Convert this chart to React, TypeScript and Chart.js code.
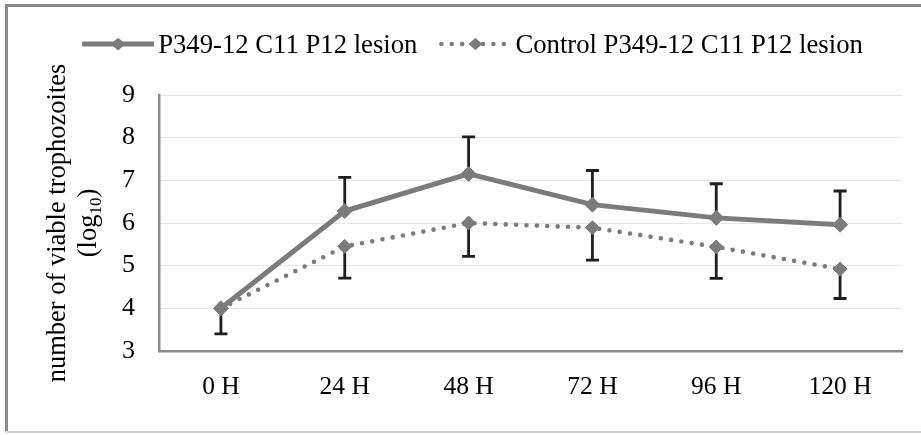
import React, { useEffect, useRef } from 'react';
import { Chart, registerables } from 'chart.js';

Chart.register(...registerables);

const categories = ['0 H', '24 H', '48 H', '72 H', '96 H', '120 H'];
const lesionValues = [4.0, 6.28, 7.15, 6.43, 6.12, 5.96];
const lesionErrorsUp = [0, 0.79, 0.87, 0.8, 0.8, 0.79];
const controlValues = [4.0, 5.45, 6.0, 5.89, 5.44, 4.92];
const controlErrorsDown = [0.6, 0.74, 0.78, 0.76, 0.74, 0.69];
const yMin = 3;
const yMax = 9;
const yStep = 1;
const seriesNames = ['P349-12 C11 P12 lesion', 'Control P349-12 C11 P12 lesion'];
const yTitleLine1 = 'number of viable trophozoites';
const yTitleLine2Parts = ['(log', '10', ')'];

const FONT = '"Liberation Serif", "Times New Roman", serif';
const GRAY = '#7b7b7b';
const DOT_DASH = [0, 10.4];

const framePlugin = {
  id: 'frame',
  beforeDraw(chart: any) {
    const { ctx, width, height } = chart;
    ctx.save();
    ctx.fillStyle = '#ffffff';
    ctx.fillRect(0, 0, width, height);
    ctx.strokeStyle = '#8a8a8a';
    ctx.lineWidth = 3;
    ctx.beginPath();
    ctx.moveTo(6.5, height - 3);
    ctx.lineTo(6.5, 5.5);
    ctx.lineTo(width, 5.5);
    ctx.stroke();
    ctx.strokeStyle = '#d2d2d2';
    ctx.lineWidth = 2;
    ctx.beginPath();
    ctx.moveTo(5, height - 3);
    ctx.lineTo(width, height - 3);
    ctx.stroke();
    ctx.restore();
  },
};

const errorBarPlugin = {
  id: 'errorBars',
  beforeDatasetsDraw(chart: any) {
    const { ctx, scales } = chart;
    const xs = scales.x;
    const ys = scales.y;
    ctx.save();
    ctx.strokeStyle = '#1e1e1e';
    ctx.lineWidth = 2.8;
    const cap = 6.5;
    const drawBar = (i: number, v: number, e: number) => {
      if (!e) return;
      const x = xs.getPixelForValue(i);
      const y0 = ys.getPixelForValue(v);
      const y1 = ys.getPixelForValue(v + e);
      ctx.beginPath();
      ctx.moveTo(x, y0);
      ctx.lineTo(x, y1);
      ctx.moveTo(x - cap, y1);
      ctx.lineTo(x + cap, y1);
      ctx.stroke();
    };
    lesionValues.forEach((v, i) => drawBar(i, v, lesionErrorsUp[i]));
    controlValues.forEach((v, i) => drawBar(i, v, -controlErrorsDown[i]));
    ctx.restore();
  },
};

const legendPlugin = {
  id: 'customLegend',
  afterDraw(chart: any) {
    const { ctx } = chart;
    ctx.save();
    const fontSize = 26.7;
    ctx.font = `${fontSize}px ${FONT}`;
    const sampleW = 72;
    const gapText = 4;
    const gapItem = 22;
    const widths = seriesNames.map((n) => sampleW + gapText + ctx.measureText(n).width);
    const total = widths[0] + widths[1] + gapItem;
    const center = 472.5;
    const yMid = 44;
    const baseline = 53;
    let x = center - total / 2;
    seriesNames.forEach((name, i) => {
      const ds = chart.data.datasets[i];
      ctx.save();
      ctx.strokeStyle = ds.borderColor;
      ctx.lineWidth = ds.borderWidth;
      ctx.lineCap = i === 0 ? 'butt' : 'round';
      ctx.setLineDash(i === 0 ? [] : DOT_DASH);
      ctx.beginPath();
      ctx.moveTo(x + (i === 0 ? 0 : 2), yMid);
      ctx.lineTo(x + sampleW, yMid);
      ctx.stroke();
      ctx.setLineDash([]);
      const cx = x + sampleW / 2;
      const r = ds.pointRadius;
      ctx.fillStyle = ds.pointBackgroundColor;
      ctx.beginPath();
      ctx.moveTo(cx - r, yMid);
      ctx.lineTo(cx, yMid - r * 0.85);
      ctx.lineTo(cx + r, yMid);
      ctx.lineTo(cx, yMid + r * 0.85);
      ctx.closePath();
      ctx.fill();
      ctx.restore();
      ctx.fillStyle = '#000000';
      ctx.textAlign = 'left';
      ctx.textBaseline = 'alphabetic';
      ctx.fillText(name, x + sampleW + gapText, baseline);
      x += widths[i] + gapItem;
    });
    ctx.restore();
  },
};

const yTitlePlugin = {
  id: 'yTitle',
  afterDraw(chart: any) {
    const { ctx, chartArea } = chart;
    const cy = (chartArea.top + chartArea.bottom) / 2;
    ctx.save();
    ctx.translate(65, cy);
    ctx.rotate(-Math.PI / 2);
    ctx.fillStyle = '#000000';
    ctx.textBaseline = 'alphabetic';
    ctx.textAlign = 'center';
    const fs = 26.5;
    ctx.font = `${fs}px ${FONT}`;
    ctx.fillText(yTitleLine1, 0, 0);
    const subFs = 17;
    ctx.textAlign = 'left';
    const w0 = ctx.measureText(yTitleLine2Parts[0]).width;
    const w2 = ctx.measureText(yTitleLine2Parts[2]).width;
    ctx.font = `${subFs}px ${FONT}`;
    const w1 = ctx.measureText(yTitleLine2Parts[1]).width;
    const tot = w0 + w1 + w2;
    let x = -tot / 2;
    const lineY = 31;
    ctx.font = `${fs}px ${FONT}`;
    ctx.fillText(yTitleLine2Parts[0], x, lineY);
    x += w0;
    ctx.font = `${subFs}px ${FONT}`;
    ctx.fillText(yTitleLine2Parts[1], x, lineY + 5);
    x += w1;
    ctx.font = `${fs}px ${FONT}`;
    ctx.fillText(yTitleLine2Parts[2], x, lineY);
    ctx.restore();
  },
};

export default function App() {
  const ref = useRef<HTMLCanvasElement | null>(null);

  useEffect(() => {
    document.body.style.margin = '0';
    const canvas = ref.current;
    if (!canvas) return;
    const chart = new Chart(canvas, {
      type: 'line',
      data: {
        labels: categories,
        datasets: [
          {
            label: seriesNames[0],
            data: lesionValues,
            borderColor: GRAY,
            backgroundColor: GRAY,
            borderWidth: 5,
            tension: 0,
            pointStyle: 'rectRot',
            pointRadius: 7.5,
            pointBackgroundColor: GRAY,
            pointBorderColor: GRAY,
            pointBorderWidth: 1,
            fill: false,
          },
          {
            label: seriesNames[1],
            data: controlValues,
            borderColor: GRAY,
            backgroundColor: GRAY,
            borderWidth: 4.6,
            borderDash: DOT_DASH,
            borderCapStyle: 'round',
            tension: 0,
            pointStyle: 'rectRot',
            pointRadius: 7,
            pointBackgroundColor: GRAY,
            pointBorderColor: GRAY,
            pointBorderWidth: 1,
            fill: false,
          },
        ],
      },
      options: {
        responsive: false,
        animation: false,
        devicePixelRatio: 1,
        layout: { padding: { top: 95, left: 0, right: 19, bottom: 0 } },
        plugins: {
          legend: { display: false },
          tooltip: { enabled: false },
          title: { display: false },
        },
        scales: {
          x: {
            type: 'category',
            offset: true,
            grid: { display: false, drawTicks: false },
            border: { display: true, color: '#8a8a8a', width: 2.5 },
            ticks: {
              color: '#000000',
              font: { family: FONT, size: 25.5 },
              padding: 21,
              maxRotation: 0,
              autoSkip: false,
            },
            afterFit(scale: any) {
              scale.height = 84;
            },
          },
          y: {
            min: yMin,
            max: yMax,
            grid: { color: '#e6e6e6', lineWidth: 1, drawTicks: false },
            border: { display: true, color: '#8a8a8a', width: 2.5 },
            ticks: {
              stepSize: yStep,
              color: '#000000',
              font: { family: FONT, size: 26 },
              padding: 24,
            },
            afterFit(scale: any) {
              scale.width = 159;
            },
          },
        },
      },
      plugins: [framePlugin, errorBarPlugin, legendPlugin, yTitlePlugin],
    } as any);
    return () => chart.destroy();
  }, []);

  return (
    <div style={{ width: 921, height: 435 }}>
      <canvas ref={ref} width={921} height={435} style={{ display: 'block', width: 921, height: 435 }} />
    </div>
  );
}
